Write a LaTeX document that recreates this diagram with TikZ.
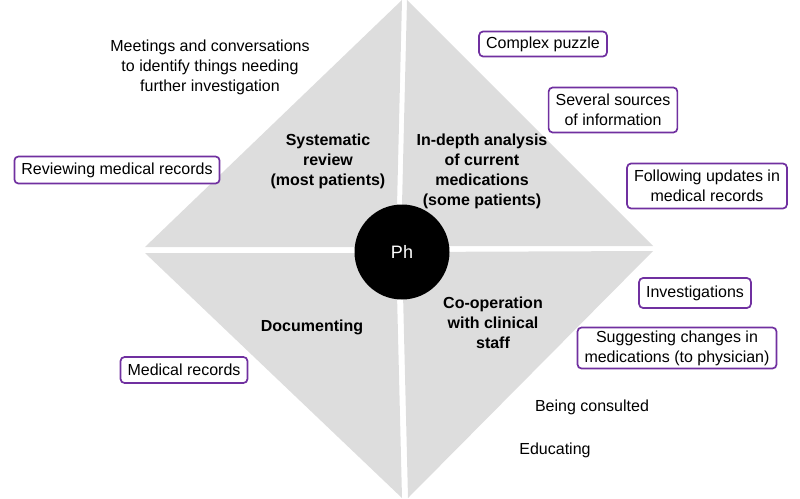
\documentclass[tikz,border=0pt]{standalone}
\usepackage{fontspec}
\setmainfont{Liberation Sans}
\definecolor{quad}{RGB}{221,221,221}
\definecolor{boxpurple}{RGB}{112,48,160}
\tikzset{
  txt/.style={font=\fontsize{16}{20}\selectfont, align=center, inner sep=0pt},
  head/.style={font=\fontsize{16}{20}\selectfont\bfseries, align=center, inner sep=0pt},
  pbox/.style={draw=boxpurple, line width=1.7pt, rounded corners=4pt, fill=white,
     font=\fontsize{16}{20}\selectfont, align=center, inner xsep=7pt, inner ysep=3pt},
  quadfill/.style={fill=quad, draw=none}
}
\begin{document}
\begin{tikzpicture}[x=1pt,y=-1pt]
\useasboundingbox (0,0) rectangle (800,498);
% quadrants
\fill[quadfill] (402,0) -- (145,247) -- (396,247) -- cycle;
\fill[quadfill] (407,0) -- (653,246) -- (401,246) -- cycle;
\fill[quadfill] (145,253) -- (396,253) -- (402,498) -- cycle;
\fill[quadfill] (402,252) -- (653,251) -- (408,498) -- cycle;
% centre
\node[circle, fill=black, minimum size=95pt, inner sep=0pt, text=white,
      font=\fontsize{18}{20}\selectfont] (ph) at (402,252) {Ph};
% quadrant headings
\node[head] (sys) at (328,161) {Systematic\\review\\(most patients)};
\node[head] (ind) at (482,171) {In-depth analysis\\of current\\medications\\(some patients)};
\node[head] (doc) at (312,327) {Documenting};
\node[head] (coop) at (493,323) {Co-operation\\with clinical\\staff};
% free texts
\node[txt] (meet) at (210,67) {Meetings and conversations\\to identify things needing\\further investigation};
\node[txt] (cons) at (592,407) {Being consulted};
\node[txt] (edu) at (555,450) {Educating};
% boxes
\node[pbox, minimum height=27pt] (rev) at (117,170) {Reviewing medical records};
\node[pbox, minimum height=25pt] (puz) at (543,44) {Complex puzzle};
\node[pbox, minimum height=45pt] (sev) at (613,110) {Several sources\\of information};
\node[pbox, minimum height=45pt] (fol) at (707,186) {Following updates in\\medical records};
\node[pbox, minimum height=30pt] (inv) at (695,293) {Investigations};
\node[pbox, minimum height=41pt] (sug) at (677,348) {Suggesting changes in\\medications (to physician)};
\node[pbox, minimum height=26pt] (med) at (184,370) {Medical records};
\end{tikzpicture}
\end{document}
